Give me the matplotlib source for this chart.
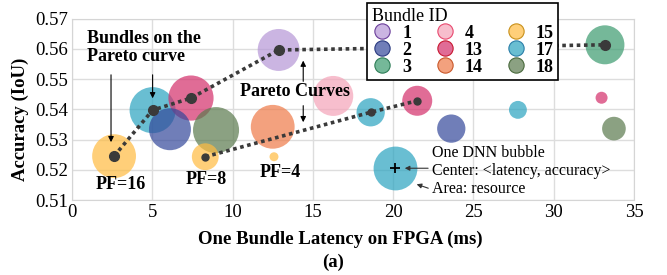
import numpy as np
import matplotlib
matplotlib.use("Agg")
import matplotlib.pyplot as plt
from matplotlib.lines import Line2D
from matplotlib.colors import to_rgba

plt.rcParams['font.family'] = ['Liberation Serif', 'DejaVu Serif']

# bundle colours
bundle_ids = ['1', '2', '3', '4', '13', '14', '15', '17', '18']
bundle_colors = {
    '1': '#b596d6', '2': '#34489a', '3': '#3a9a6e',
    '4': '#f5a3b8', '13': '#d42e6a', '14': '#ef7a47',
    '15': '#ffbb40', '17': '#2aa3c0', '18': '#5a7a4d',
}
edge_colors = {
    '1': '#6a3d9a', '2': '#2a3a80', '3': '#2e7d57',
    '4': '#e8486e', '13': '#c81830', '14': '#c8582a',
    '15': '#c8901a', '17': '#2a7ea8', '18': '#4a6a3d',
}

# one bubble per DNN: latency (ms), accuracy (IoU), resource (area), bundle
latency = [2.62, 5.02, 7.41, 6.10, 8.97, 8.30, 12.87, 12.50, 12.58,
           16.27, 18.60, 21.50, 23.62, 27.77, 32.98, 33.75, 33.19]
accuracy = [0.5245, 0.5397, 0.5437, 0.5334, 0.5331, 0.5243, 0.5596, 0.5342, 0.5243,
            0.5444, 0.5390, 0.5428, 0.5336, 0.5398, 0.5438, 0.5336, 0.5613]
resource = [48, 53, 51, 44, 53, 18, 44, 48, 2,
            40, 20, 22.5, 20, 8, 3.6, 14, 38]
bundle = ['15', '17', '13', '2', '18', '15', '1', '14', '15',
          '4', '17', '13', '2', '17', '13', '18', '3']

# pareto curves
pareto1_x = [2.62, 5.02, 7.41, 12.87, 33.19]
pareto1_y = [0.5245, 0.5397, 0.5437, 0.5596, 0.5613]
pareto2_x = [8.30, 18.60, 21.50]
pareto2_y = [0.5243, 0.5390, 0.5428]

# example bubble for the explanation
demo_x, demo_y, demo_res = 20.11, 0.5205, 48

fig = plt.figure(figsize=(6.67, 2.75), dpi=100)
ax = fig.add_axes([72/667, 1-200/275, (634-72)/667, (200-18.5)/275])

scale = 10 * 1.44**2
ax.scatter(latency, accuracy, s=np.array(resource)*scale,
           c=[bundle_colors[b] for b in bundle], alpha=0.7, linewidths=0, zorder=2)
ax.scatter([demo_x], [demo_y], s=demo_res*scale, c=bundle_colors['17'],
           alpha=0.7, linewidths=0, zorder=2)
ax.plot([demo_x], [demo_y], marker='+', color='black', ms=7, mew=1.3, zorder=4)

ax.plot(pareto1_x, pareto1_y, linestyle=(0, (1, 1)), color='#3a3a3a', lw=2.6, zorder=3)
ax.plot(pareto1_x, pareto1_y, 'o', color='#3a3a3a', ms=7, zorder=3)
ax.plot(pareto2_x, pareto2_y, linestyle=(0, (1, 1)), color='#3a3a3a', lw=2.6, zorder=3)
ax.plot(pareto2_x, pareto2_y, 'o', color='#3a3a3a', ms=5, zorder=3)

ax.set_xlim(0, 35)
ax.set_ylim(0.51, 0.57)
ax.set_xticks(range(0, 36, 5))
ax.set_yticks([0.51, 0.52, 0.53, 0.54, 0.55, 0.56, 0.57])
ax.tick_params(length=0, labelsize=13.5, pad=3)
ax.grid(True, color='#dddddd', lw=1, zorder=0)
ax.set_axisbelow(True)
for sp in ax.spines.values():
    sp.set_color('#d5d5d5')

ax.set_xlabel('One Bundle Latency on FPGA (ms)', fontsize=13.5, fontweight='bold', labelpad=3)
ax.xaxis.set_label_coords(0.477, -0.17)
ax.set_ylabel('Accuracy (IoU)', fontsize=13.5, fontweight='bold')
ax.yaxis.set_label_coords(-0.077, 0.446)
fig.text(333/667, 1-262/275, '(a)', ha='center', va='center', fontsize=13.5, fontweight='bold')

# annotations
ax.text(0.93, 0.5662, 'Bundles on the\nPareto curve', ha='left', va='top',
        fontsize=13, fontweight='bold', linespacing=1.1, zorder=5)
arr = dict(arrowstyle='-|>', color='black', lw=0.8, mutation_scale=8)
ax.annotate('', xy=(2.43, 0.5282), xytext=(2.43, 0.5523), arrowprops=arr)
ax.annotate('', xy=(5.02, 0.5427), xytext=(5.02, 0.5523), arrowprops=arr)

ax.text(13.9, 0.5458, 'Pareto Curves', ha='center', va='center',
        fontsize=13, fontweight='bold', zorder=5)
ax.annotate('', xy=(14.4, 0.5570), xytext=(14.4, 0.5483), arrowprops=arr)
ax.annotate('', xy=(14.4, 0.5348), xytext=(14.4, 0.5421), arrowprops=arr)

ax.text(3.04, 0.5150, 'PF=16', ha='center', va='center', fontsize=13, fontweight='bold')
ax.text(8.39, 0.5168, 'PF=8', ha='center', va='center', fontsize=13, fontweight='bold')
ax.text(12.98, 0.5190, 'PF=4', ha='center', va='center', fontsize=13, fontweight='bold')

ax.text(22.4, 0.5256, 'One DNN bubble', ha='left', va='center', fontsize=11.5)
ax.text(22.4, 0.5197, 'Center: <latency, accuracy>', ha='left', va='center', fontsize=11.5)
ax.text(22.4, 0.5136, 'Area: resource', ha='left', va='center', fontsize=11.5)
arr2 = dict(arrowstyle='-|>', color='#333333', lw=0.8, mutation_scale=7)
ax.annotate('', xy=(20.55, 0.5205), xytext=(22.35, 0.5205), arrowprops=arr2)
ax.annotate('', xy=(21.3, 0.5155), xytext=(22.35, 0.5136), arrowprops=arr2)

# legend
handles = [Line2D([], [], marker='o', linestyle='', ms=11,
                  markerfacecolor=to_rgba(bundle_colors[b], 0.7),
                  markeredgecolor=edge_colors[b], markeredgewidth=0.8,
                  label=b) for b in bundle_ids]
leg = fig.legend(handles=handles, title='Bundle ID', ncol=3, loc='upper left',
                 bbox_to_anchor=(367/667, 1-3/275), borderaxespad=0,
                 frameon=True, fancybox=False,
                 edgecolor='black', framealpha=1, prop={'weight': 'bold', 'size': 13},
                 title_fontsize=13, handletextpad=0.5, columnspacing=1.25,
                 labelspacing=0.0, borderpad=0.25, handlelength=1.2)
leg._legend_box.align = 'left'
leg.get_frame().set_linewidth(1.2)

fig.savefig('out.png', dpi=100)
